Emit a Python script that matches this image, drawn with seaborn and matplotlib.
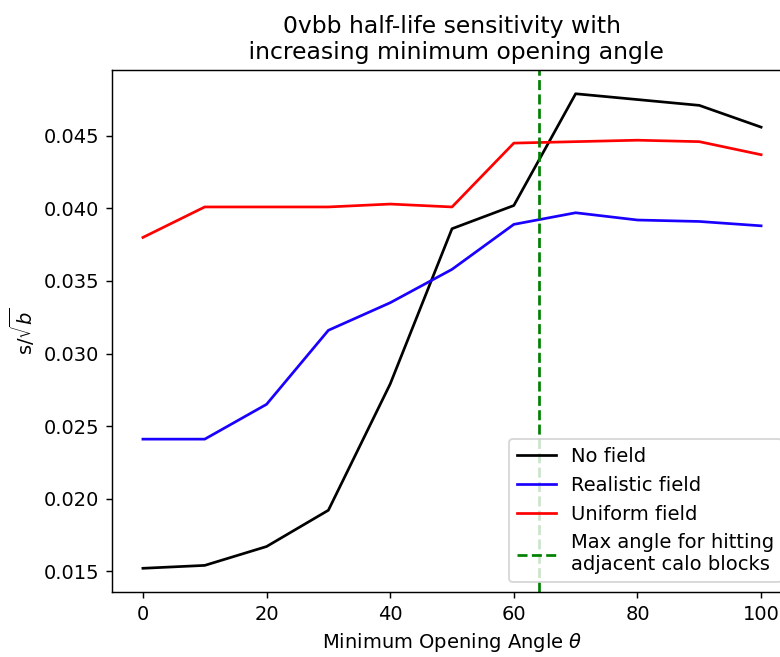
import numpy as np
import pandas as pd
import seaborn as sns
import matplotlib
matplotlib.use("Agg")
import matplotlib.pyplot as plt

# minimum opening angle (degrees)
angles = [0, 10, 20, 30, 40, 50, 60, 70, 80, 90, 100]

# s/sqrt(b) for each field configuration
no_field = [0.0152, 0.0154, 0.0167, 0.0192, 0.0279, 0.0386, 0.0402, 0.0479, 0.0475, 0.0471, 0.0456]
realistic_field = [0.0241, 0.0241, 0.0265, 0.0316, 0.0335, 0.0358, 0.0389, 0.0397, 0.0392, 0.0391, 0.0388]
uniform_field = [0.0380, 0.0401, 0.0401, 0.0401, 0.0403, 0.0401, 0.0445, 0.0446, 0.0447, 0.0446, 0.0437]

series_names = ["No field", "Realistic field", "Uniform field"]
series_colors = ["black", "#1a00ff", "red"]

max_angle = 64
max_angle_label = "Max angle for hitting\nadjacent calo blocks"

df = pd.DataFrame({
    "angle": angles * 3,
    "sens": no_field + realistic_field + uniform_field,
    "field": [n for n in series_names for _ in angles],
})

plt.rcParams["font.size"] = 10.8
plt.rcParams["axes.titlesize"] = 13

dpi = 130
fig = plt.figure(figsize=(780 / dpi, 657 / dpi), dpi=dpi)
ax = fig.add_axes([0.1436, 0.0989, 0.8718, 0.7945])

sns.lineplot(data=df, x="angle", y="sens", hue="field",
             palette=dict(zip(series_names, series_colors)),
             hue_order=series_names, ax=ax)

ax.axvline(max_angle, color="green", linestyle="--", label=max_angle_label)

ax.set_title("0vbb half-life sensitivity with\n increasing minimum opening angle")
ax.set_xlabel(r"Minimum Opening Angle $\theta$")
ax.set_ylabel(r"s/$\sqrt{b}$")
ax.set_xticks([0, 20, 40, 60, 80, 100])
ax.set_yticks([0.015, 0.020, 0.025, 0.030, 0.035, 0.040, 0.045])

handles, labels = ax.get_legend_handles_labels()
ax.legend(handles, labels, loc="lower right")

fig.savefig("out.png", dpi=dpi)
